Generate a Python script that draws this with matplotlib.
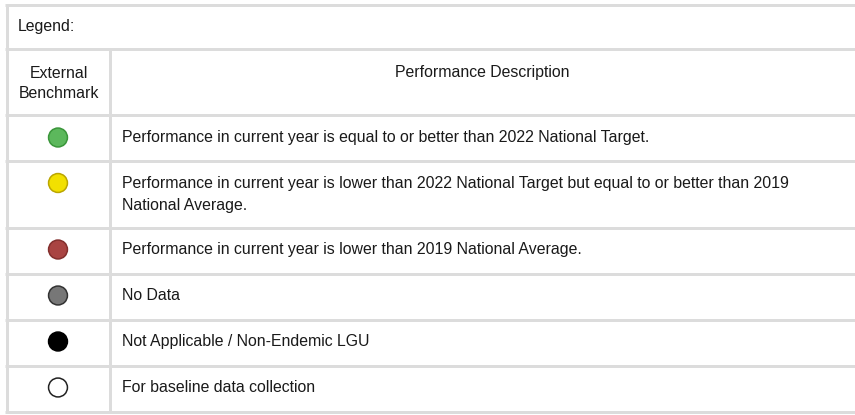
import matplotlib
matplotlib.use("Agg")
import matplotlib.pyplot as plt

plt.rcParams['font.family'] = ['Liberation Sans', 'DejaVu Sans']

# ---- data ----
title_text = "Legend:"
header_left = ["External", "Benchmark"]
header_right = "Performance Description"
descriptions = [
    ["Performance in current year is equal to or better than 2022 National Target."],
    ["Performance in current year is lower than 2022 National Target but equal to or better than 2019",
     "National Average."],
    ["Performance in current year is lower than 2019 National Average."],
    ["No Data"],
    ["Not Applicable / Non-Endemic LGU"],
    ["For baseline data collection"],
]
fill_colors = ["#5cb85c", "#f2e000", "#a94442", "#777777", "#000000", "#ffffff"]
edge_colors = ["#3a963a", "#bba600", "#832f2d", "#333333", "#000000", "#222222"]

# ---- layout (pixels) ----
W, H = 855, 415
fig = plt.figure(figsize=(W / 100, H / 100), dpi=100)
ax = fig.add_axes([0, 0, 1, 1])
ax.set_xlim(0, W)
ax.set_ylim(H, 0)
ax.axis("off")

fs = 11.45
tc = "#1a1a1a"
grid = "#dcdcdc"
lw = 3 * 0.72

hlines = [5.5, 49.5, 115.5, 161.5, 227.5, 273.5, 319.5, 365.5, 411.5]
x_left, x_div, x_right = 6.5, 109.5, 858
for y in hlines:
    ax.plot([x_left - 1.5, x_right], [y, y], color=grid, lw=lw, solid_capstyle="butt", zorder=1)
ax.plot([x_left, x_left], [hlines[0], hlines[-1]], color=grid, lw=lw, zorder=1)
ax.plot([x_div, x_div], [hlines[1], hlines[-1]], color=grid, lw=lw, zorder=1)

ax.text(18, 27, title_text, fontsize=fs, va="center", ha="left", color=tc)
for k, ln in enumerate(header_left):
    ax.text((x_left + x_div) / 2 + 1, 73 + k * 20.5, ln, fontsize=fs, va="center", ha="center", color=tc)
ax.text((x_div + W) / 2, 73, header_right, fontsize=fs, va="center", ha="center", color=tc)

ys = []
for i, lines in enumerate(descriptions):
    top = hlines[i + 2]
    bot = hlines[i + 3]
    if len(lines) > 1:
        y = top + 21.5
    else:
        y = (top + bot) / 2 - 1
    ys.append(y)
    for k, ln in enumerate(lines):
        ax.text(122, y + k * 22, ln, fontsize=fs, va="center", ha="left", color=tc)

ax.scatter([58] * len(ys), ys, s=185, c=fill_colors, edgecolors=edge_colors, linewidths=1.1, zorder=3)

fig.savefig("out.png", dpi=100)
